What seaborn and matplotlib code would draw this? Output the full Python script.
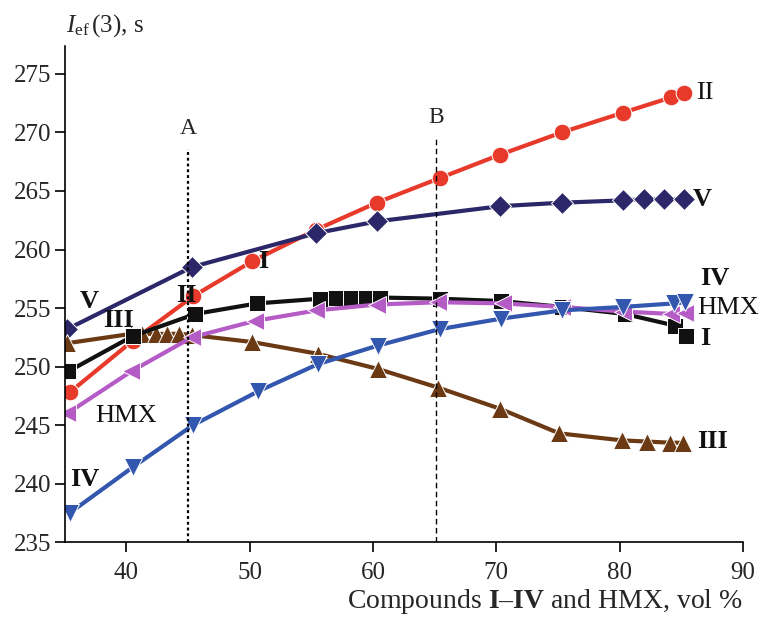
import matplotlib
matplotlib.use("Agg")
import matplotlib.pyplot as plt
import seaborn as sns
import pandas as pd

sns.set_theme(style="ticks")
plt.rcParams['font.family'] = ['Liberation Serif', 'DejaVu Serif']
plt.rcParams['mathtext.fontset'] = 'custom'
plt.rcParams['mathtext.rm'] = 'Liberation Serif'
plt.rcParams['mathtext.it'] = 'Liberation Serif:italic'
plt.rcParams['mathtext.bf'] = 'Liberation Serif:bold'

# Data (vol %, I_ef(3) in s)
x_II = [35.4, 40.5, 45.4, 50.2, 55.4, 60.3, 65.4, 70.3, 75.3, 80.3, 84.2, 85.2]
y_II = [247.8, 252.2, 256.0, 259.0, 261.7, 264.0, 266.1, 268.1, 270.0, 271.7, 273.0, 273.4]

x_V = [35.2, 45.3, 55.4, 60.3, 70.3, 75.3, 80.3, 82.0, 83.6, 85.2]
y_V = [253.2, 258.5, 261.4, 262.4, 263.7, 264.0, 264.2, 264.3, 264.3, 264.3]

x_I = [35.3, 40.5, 45.6, 50.6, 55.7, 57.0, 58.2, 59.4, 60.6, 65.4, 70.4, 75.3, 80.4, 84.5, 85.4]
y_I = [249.6, 252.6, 254.5, 255.4, 255.8, 255.9, 255.9, 255.9, 255.9, 255.8, 255.6, 255.1, 254.5, 253.5, 252.6]

x_HMX = [35.2, 40.4, 45.3, 50.4, 55.4, 60.3, 65.3, 70.5, 75.3, 80.3, 84.2, 85.3]
y_HMX = [246.0, 249.6, 252.5, 253.9, 254.8, 255.3, 255.5, 255.4, 255.1, 254.7, 254.5, 254.6]

x_IV = [35.4, 40.5, 45.4, 50.7, 55.5, 60.4, 65.4, 70.4, 75.3, 80.3, 84.4, 85.3]
y_IV = [237.5, 241.4, 245.0, 247.9, 250.2, 251.8, 253.2, 254.1, 254.8, 255.1, 255.4, 255.5]

x_III = [35.2, 40.4, 41.3, 42.4, 43.3, 44.3, 45.3, 50.2, 55.5, 60.4, 65.3, 70.3, 75.1, 80.2, 82.2, 84.1, 85.1]
y_III = [252.0, 252.8, 252.8, 252.8, 252.8, 252.8, 252.7, 252.1, 251.1, 249.8, 248.2, 246.4, 244.3, 243.7, 243.6, 243.5, 243.5]

series = [
    ("II", x_II, y_II, "#e83a2b", "o", 12),
    ("V", x_V, y_V, "#2c2768", "D", 11),
    ("III", x_III, y_III, "#6b3a14", "^", 13),
    ("I", x_I, y_I, "#111111", "s", 11),
    ("HMX", x_HMX, y_HMX, "#b55bc6", "<", 13),
    ("IV", x_IV, y_IV, "#3357ae", "v", 13),
]

fig = plt.figure(figsize=(7.62, 6.19), dpi=100)
ax = fig.add_axes([0.085, 0.124, 0.89, 0.802])

for name, xs, ys, col, mk, ms in series:
    df = pd.DataFrame({"x": xs, "y": ys})
    sns.lineplot(data=df, x="x", y="y", ax=ax, color=col, marker=mk,
                 markersize=ms, linewidth=3, markeredgecolor="white",
                 markeredgewidth=0.7, sort=False, estimator=None, legend=False)

ax.plot([45, 45], [235, 268.6], color="black", lw=1.6, ls=(0, (1.3, 1.3)))
ax.plot([65.1, 65.1], [235, 269.7], color="black", lw=1.0, ls=(0, (4, 2.5)))
ax.text(45, 270.3, "A", ha="center", va="center", fontsize=17)
ax.text(65.1, 271.3, "B", ha="center", va="center", fontsize=17)

ax.set_xlim(35, 90)
ax.set_ylim(235, 277.4)
ax.set_xticks([40, 50, 60, 70, 80, 90])
ax.set_yticks([235, 240, 245, 250, 255, 260, 265, 270, 275])
ax.tick_params(labelsize=18, length=7, width=1.2, color="black", direction="out", pad=3)
ax.tick_params(axis="x", pad=7)
for s in ["top", "right"]:
    ax.spines[s].set_visible(False)
for s in ["left", "bottom"]:
    ax.spines[s].set_color("black")
    ax.spines[s].set_linewidth(1.2)
ax.set_xlabel("")
ax.set_ylabel("")

# Curve labels
lab = dict(fontsize=19, fontweight="bold", color="#111111", ha="left", va="center")
reg = dict(fontsize=19, color="#111111", ha="left", va="center")
ax.text(36.2, 255.6, "V", **lab)
ax.text(85.9, 264.3, "V", **lab)
ax.text(44.0, 256.1, "II", **lab)
ax.text(86.2, 273.4, "II", **reg)
ax.text(50.7, 259.0, "I", **lab)
ax.text(86.5, 252.4, "I", **lab)
ax.text(38.1, 253.9, "III", **lab)
ax.text(86.3, 243.6, "III", **lab)
ax.text(35.4, 240.4, "IV", **lab)
ax.text(86.5, 257.5, "IV", **lab)
ax.text(37.5, 245.8, "HMX", **reg)
ax.text(86.3, 255.0, "HMX", **reg)

fig.text(0.087, 0.958, r"$\mathit{I}_{\rm ef}\,(3)$, s", fontsize=18, ha="left", va="center")
fig.text(0.975, 0.005,
         r"Compounds $\mathbf{I}$–$\mathbf{IV}$ and HMX, vol %",
         fontsize=20, ha="right", va="bottom")

fig.savefig("out.png", dpi=100)
